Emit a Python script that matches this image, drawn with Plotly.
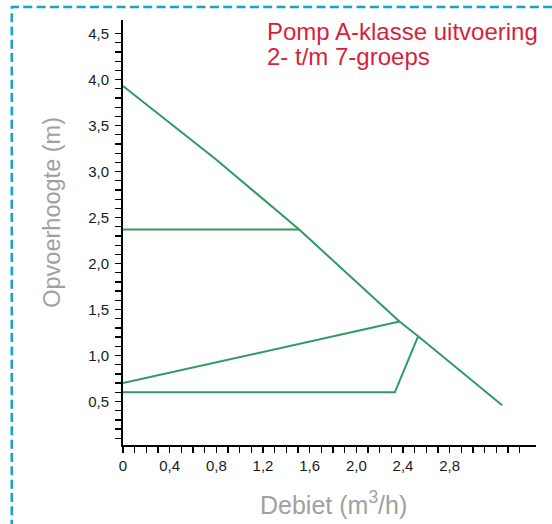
import plotly.graph_objects as go

# ---- data ----
curve_x = [0, 0.79, 1.51, 2.37, 2.53, 3.25]
curve_y = [3.93, 3.14, 2.37, 1.37, 1.21, 0.46]

stage2_x = [0, 1.51]
stage2_y = [2.37, 2.37]

stage3_x = [0, 2.37]
stage3_y = [0.70, 1.37]

stage1_x = [0, 2.33, 2.53]
stage1_y = [0.60, 0.60, 1.21]

x_tick_vals = [0, 0.4, 0.8, 1.2, 1.6, 2.0, 2.4, 2.8]
x_tick_labels = ["0", "0,4", "0,8", "1,2", "1,6", "2,0", "2,4", "2,8"]
y_tick_vals = [0.5, 1.0, 1.5, 2.0, 2.5, 3.0, 3.5, 4.0, 4.5]
y_tick_labels = ["0,5", "1,0", "1,5", "2,0", "2,5", "3,0", "3,5", "4,0", "4,5"]

title_line1 = "Pomp A-klasse uitvoering"
title_line2 = "2- t/m 7-groeps"
x_title = "Debiet (m<sup>3</sup>/h)"
y_title = "Opvoerhoogte (m)"

# ---- layout geometry (pixels) ----
W, H = 552, 524
L, T = 123.3, 20
PR, PB = 536.5, 445
R, B = W - PR, H - PB
PW, PH = PR - L, PB - T


def px(x):
    return (x - L) / PW


def py(y):
    return 1 - (y - T) / PH


GREEN = "#2f9a62"
FONT = "Liberation Sans, Arial, sans-serif"

# small ticks every 0.1
x_ticks_all = [round(i * 0.1, 1) for i in range(0, 35)]
x_text_all = [x_tick_labels[x_tick_vals.index(v)] if v in x_tick_vals else "" for v in x_ticks_all]
y_ticks_all = [round(i * 0.1, 1) for i in range(1, 46)]
y_text_all = [y_tick_labels[y_tick_vals.index(v)] if v in y_tick_vals else "" for v in y_ticks_all]

fig = go.Figure()
for xs, ys in [(curve_x, curve_y), (stage2_x, stage2_y), (stage3_x, stage3_y), (stage1_x, stage1_y)]:
    fig.add_trace(go.Scatter(x=xs, y=ys, mode="lines",
                             line=dict(color=GREEN, width=2), showlegend=False,
                             hoverinfo="skip"))

axis_common = dict(showgrid=False, zeroline=False, showline=True, linecolor="black",
                   linewidth=2, ticks="outside", ticklen=6, tickwidth=1.3,
                   tickcolor="black", tickfont=dict(family=FONT, size=15, color="#1a1a1a"),
                   tickmode="array", fixedrange=True)

fig.update_xaxes(range=[0, 3.54], tickvals=x_ticks_all, ticktext=x_text_all, **axis_common)
fig.update_yaxes(range=[0.027, 4.648], tickvals=y_ticks_all, ticktext=y_text_all,
                 ticklabelstandoff=3, **axis_common)

annotations = [
    dict(text=title_line1, x=px(265), y=py(31.5), xanchor="left", yanchor="middle",
         font=dict(family=FONT, size=24, color="#d71f3c")),
    dict(text=title_line2, x=px(265), y=py(56.5), xanchor="left", yanchor="middle",
         font=dict(family=FONT, size=24, color="#d71f3c")),
    dict(text=x_title, x=px(334), y=py(503), xanchor="center", yanchor="middle",
         font=dict(family=FONT, size=25, color="#a0a0a0")),
    dict(text=y_title, x=px(52), y=py(212), xanchor="center", yanchor="middle",
         textangle=-90, font=dict(family=FONT, size=23.5, color="#a0a0a0")),
]
for a in annotations:
    a.update(xref="paper", yref="paper", showarrow=False)

# dashed border (left + top), continuous path
border_path = "M {x0},{y0} L {x1},{y1} L {x2},{y2}".format(
    x0=px(12), y0=py(542), x1=px(12), y1=py(7), x2=px(600), y2=py(7))

fig.update_layout(
    width=W, height=H,
    margin=dict(l=L, r=R, t=T, b=B),
    paper_bgcolor="white", plot_bgcolor="white",
    hovermode=False,
    annotations=annotations,
    shapes=[dict(type="path", path=border_path, xref="paper", yref="paper",
                 line=dict(color="#17a3c8", width=2.5, dash="9px,4.33px"))],
)

fig.write_html("out.html", config={"displayModeBar": False, "staticPlot": True},
               post_script="document.body.style.margin='0px';")
